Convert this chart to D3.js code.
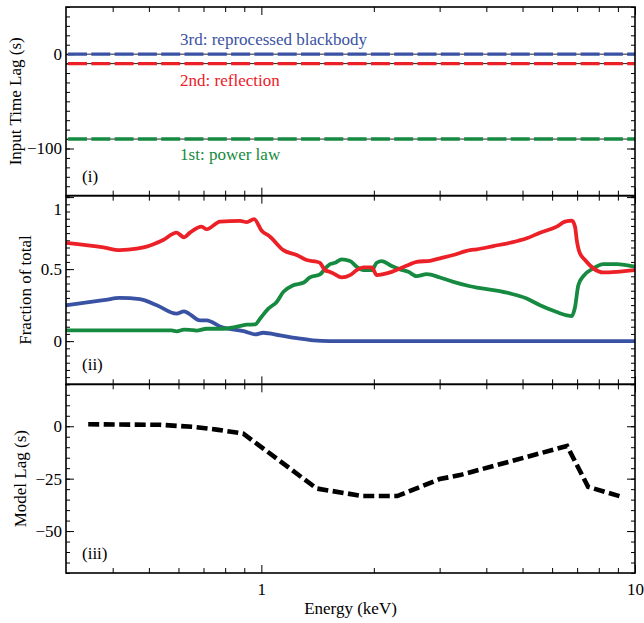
<!DOCTYPE html>
<html>
<head>
<meta charset="utf-8">
<script src="https://cdn.jsdelivr.net/npm/d3@7"></script>
<style>
  html, body { margin: 0; padding: 0; background: #fff; }
  svg { display: block; }
  text { font-family: "Liberation Serif", "Times New Roman", serif; font-size: 17px; }
</style>
</head>
<body>
<svg id="chart" width="644" height="623"></svg>
<script>
// ---------------- DATA ----------------
const energyDomain = [0.3, 10];
const xMajorTicks = [1, 10];
const xMinorTicks = [0.4, 0.5, 0.6, 0.7, 0.8, 0.9, 2, 3, 4, 5, 6, 7, 8, 9];

// Panel (i): input time lags
const componentNames = ["3rd: reprocessed blackbody", "2nd: reflection", "1st: power law"];
const inputLags = [0, -10, -90];
const lagDomain = [-150, 50];
const lagMajorTicks = [-100, 0];

// Panel (ii): fraction of total
const blackbodyE =    [0.30, 0.378, 0.418, 0.473, 0.525, 0.593, 0.621, 0.644, 0.685, 0.714, 0.775, 0.914, 0.962, 1.012, 1.122, 1.243, 1.377, 1.527, 3.0, 10];
const blackbodyFrac = [0.249, 0.284, 0.300, 0.291, 0.249, 0.191, 0.207, 0.186, 0.144, 0.144, 0.102, 0.063, 0.047, 0.058, 0.040, 0.021, 0.005, 0.0, 0.0, 0.0];

const reflectionE =    [0.30, 0.378, 0.418, 0.464, 0.493, 0.546, 0.593, 0.621, 0.644, 0.692, 0.714, 0.775, 0.877, 0.914, 0.956, 1.002, 1.055, 1.145, 1.243, 1.322, 1.406, 1.435, 1.48, 1.527, 1.558, 1.641, 1.727, 1.80, 1.875, 1.974, 2.036, 2.12, 2.233, 2.35, 2.474, 2.605, 2.828, 3.008, 3.265, 3.618, 3.771, 4.177, 4.629, 5.131, 5.57, 6.173, 6.498, 6.772, 6.911, 6.984, 7.096, 7.35, 7.735, 8.228, 8.936, 10];
const reflectionFrac = [0.683, 0.651, 0.632, 0.642, 0.656, 0.702, 0.753, 0.721, 0.753, 0.795, 0.777, 0.830, 0.835, 0.826, 0.847, 0.767, 0.725, 0.632, 0.598, 0.563, 0.551, 0.544, 0.493, 0.480, 0.470, 0.442, 0.458, 0.493, 0.512, 0.512, 0.458, 0.465, 0.481, 0.505, 0.528, 0.551, 0.558, 0.575, 0.598, 0.632, 0.637, 0.660, 0.683, 0.714, 0.753, 0.795, 0.830, 0.837, 0.795, 0.702, 0.620, 0.563, 0.505, 0.477, 0.481, 0.493];

const powerLawE =    [0.30, 0.50, 0.575, 0.593, 0.621, 0.644, 0.671, 0.714, 0.791, 0.85, 0.914, 0.962, 0.992, 1.044, 1.099, 1.145, 1.217, 1.295, 1.349, 1.435, 1.496, 1.527, 1.575, 1.641, 1.727, 1.80, 1.875, 1.974, 2.036, 2.10, 2.233, 2.35, 2.474, 2.605, 2.771, 3.008, 3.265, 3.618, 3.771, 4.177, 4.629, 5.131, 5.57, 6.173, 6.566, 6.772, 6.911, 7.052, 7.273, 7.735, 8.228, 8.936, 10];
const powerLawFrac = [0.075, 0.075, 0.074, 0.068, 0.080, 0.078, 0.073, 0.086, 0.086, 0.098, 0.114, 0.116, 0.156, 0.226, 0.272, 0.342, 0.388, 0.405, 0.442, 0.463, 0.516, 0.535, 0.544, 0.568, 0.556, 0.516, 0.493, 0.493, 0.544, 0.556, 0.521, 0.498, 0.481, 0.451, 0.465, 0.442, 0.411, 0.381, 0.372, 0.354, 0.331, 0.296, 0.249, 0.202, 0.179, 0.174, 0.237, 0.388, 0.451, 0.505, 0.535, 0.535, 0.516];

const fracDomain = [-0.3, 1.01];
const fracMajorTicks = [0, 0.5, 1];

// Panel (iii): model lag
const modelLagE =   [0.344, 0.535, 0.657, 0.759, 0.895, 1.406, 1.87, 2.31, 3.0, 3.4, 6.58, 7.49, 9.24];
const modelLagSec = [0.95, 0.7, -0.3, -1.6, -3.5, -29.7, -33.3, -33.3, -25.2, -23.3, -9.4, -28.9, -33.7];
const modelDomain = [-70, 20];
const modelMajorTicks = [-50, -25, 0];

const panelTags = ["(i)", "(ii)", "(iii)"];
const yTitles = ["Input Time Lag (s)", "Fraction of total", "Model Lag (s)"];
const xTitle = "Energy (keV)";

// ---------------- LAYOUT ----------------
const pL = 66, pR = 635, pT = 7, pB = 573;
const ph = (pB - pT) / 3;
const colBlue = "#3a52a3", colRed = "#ec2027", colGreen = "#168a40";
const compColors = [colBlue, colRed, colGreen];
const FONT = '"Liberation Serif", "Times New Roman", serif';

const svg = d3.select("#chart");
const x = d3.scaleLog().domain(energyDomain).range([pL, pR]);

function stepRange(a, b, s) { const r = []; for (let v = a; v <= b + 1e-9; v += s) r.push(+v.toFixed(6)); return r; }

function panel(i, domain, majors, minorStep, fmt) {
  const y0 = pT + i * ph, y1 = y0 + ph;
  const y = d3.scaleLinear().domain(domain).range([y1, y0]);
  const g = svg.append("g");
  const minors = stepRange(Math.ceil(domain[0] / minorStep) * minorStep, domain[1], minorStep);

  g.append("g").attr("transform", `translate(${pL},0)`)
    .call(d3.axisLeft(y).tickValues(minors).tickSize(-4).tickFormat(""));
  const la = g.append("g").attr("transform", `translate(${pL},0)`)
    .call(d3.axisLeft(y).tickValues(majors).tickSize(-8).tickPadding(4).tickFormat(fmt));
  g.append("g").attr("transform", `translate(${pR},0)`)
    .call(d3.axisRight(y).tickValues(minors).tickSize(-4).tickFormat(""));
  g.append("g").attr("transform", `translate(${pR},0)`)
    .call(d3.axisRight(y).tickValues(majors).tickSize(-8).tickFormat(""));

  g.append("g").attr("transform", `translate(0,${y1})`)
    .call(d3.axisBottom(x).tickValues(xMinorTicks).tickSize(-5).tickFormat(""));
  g.append("g").attr("transform", `translate(0,${y1})`)
    .call(d3.axisBottom(x).tickValues(xMajorTicks).tickSize(-8).tickFormat(""));
  g.append("g").attr("transform", `translate(0,${y0})`)
    .call(d3.axisTop(x).tickValues(xMinorTicks).tickSize(-5).tickFormat(""));
  g.append("g").attr("transform", `translate(0,${y0})`)
    .call(d3.axisTop(x).tickValues(xMajorTicks).tickSize(-8).tickFormat(""));

  g.selectAll(".domain").remove();
  g.selectAll(".tick line").attr("stroke", "#000").attr("stroke-width", 1);
  la.selectAll(".tick text").attr("font-size", 17).attr("fill", "#000").attr("font-family", FONT);

  svg.append("clipPath").attr("id", "clip" + i)
    .append("rect").attr("x", pL).attr("y", y0).attr("width", pR - pL).attr("height", ph);
  const plot = svg.append("g").attr("clip-path", `url(#clip${i})`);

  svg.append("text").attr("x", pL + 16).attr("y", y1 - 14).text(panelTags[i]);
  return { y, g, la, plot, y0, y1 };
}

// Panel (i)
const p1 = panel(0, lagDomain, lagMajorTicks, 10, d3.format("d"));
inputLags.forEach((lag, k) => {
  p1.plot.append("line").attr("x1", x(energyDomain[0])).attr("x2", x(energyDomain[1]))
    .attr("y1", p1.y(lag)).attr("y2", p1.y(lag))
    .attr("stroke", "#222").attr("stroke-width", 1);
  p1.plot.append("line").attr("x1", x(energyDomain[0]) + 2).attr("x2", x(energyDomain[1]))
    .attr("y1", p1.y(lag)).attr("y2", p1.y(lag))
    .attr("stroke", compColors[k]).attr("stroke-width", 3.4)
    .attr("stroke-dasharray", "19,4.3");
});
const labelOffsets = [-9, 22, 21];
componentNames.forEach((name, k) => {
  svg.append("text").attr("x", x(0.606)).attr("y", p1.y(inputLags[k]) + labelOffsets[k])
    .attr("fill", compColors[k]).text(name);
});

// Panel (ii)
const p2 = panel(1, fracDomain, fracMajorTicks, 0.05, d => d3.format("~g")(d));
p2.la.selectAll(".tick text").filter(d => d === 1).attr("dy", "1.05em");
const fracLine = d3.line().x(d => x(d[0])).y(d => p2.y(d[1])).curve(d3.curveMonotoneX);
const fracSeries = [
  [blackbodyE, blackbodyFrac, colBlue],
  [powerLawE, powerLawFrac, colGreen],
  [reflectionE, reflectionFrac, colRed]
];
fracSeries.forEach(([E, F, c]) => {
  p2.plot.append("path").datum(E.map((e, j) => [e, F[j]]))
    .attr("d", fracLine).attr("fill", "none").attr("stroke", c)
    .attr("stroke-width", 3.8).attr("stroke-linejoin", "round").attr("stroke-linecap", "round");
});

// Panel (iii)
const p3 = panel(2, modelDomain, modelMajorTicks, 5, d3.format("d"));
const modelLine = d3.line().x(d => x(d[0])).y(d => p3.y(d[1]));
p3.plot.append("path").datum(modelLagE.map((e, j) => [e, modelLagSec[j]]))
  .attr("d", modelLine).attr("fill", "none").attr("stroke", "#000")
  .attr("stroke-width", 4.6).attr("stroke-dasharray", "11,4.5");

// x tick labels (bottom only)
svg.append("g").attr("transform", `translate(0,${pB})`)
  .call(d3.axisBottom(x).tickValues(xMajorTicks).tickSize(0).tickPadding(10).tickFormat(d3.format("d")))
  .call(g => g.select(".domain").remove())
  .selectAll("text").attr("font-size", 17).attr("fill", "#000").attr("font-family", FONT);

// borders
[0, 1, 2].forEach(i => {
  svg.append("rect").attr("x", pL).attr("y", pT + i * ph).attr("width", pR - pL).attr("height", ph)
    .attr("fill", "none").attr("stroke", "#000").attr("stroke-width", 1.6);
});

// titles
svg.append("text").attr("x", (pL + pR) / 2).attr("y", 614).attr("text-anchor", "middle").text(xTitle);
const titleX = [15, 25, 20];
yTitles.forEach((t, i) => {
  const cy = pT + i * ph + ph / 2;
  svg.append("text").attr("transform", `translate(${titleX[i]},${cy}) rotate(-90)`)
    .attr("text-anchor", "middle").attr("dy", "0.35em").text(t);
});
</script>
</body>
</html>
